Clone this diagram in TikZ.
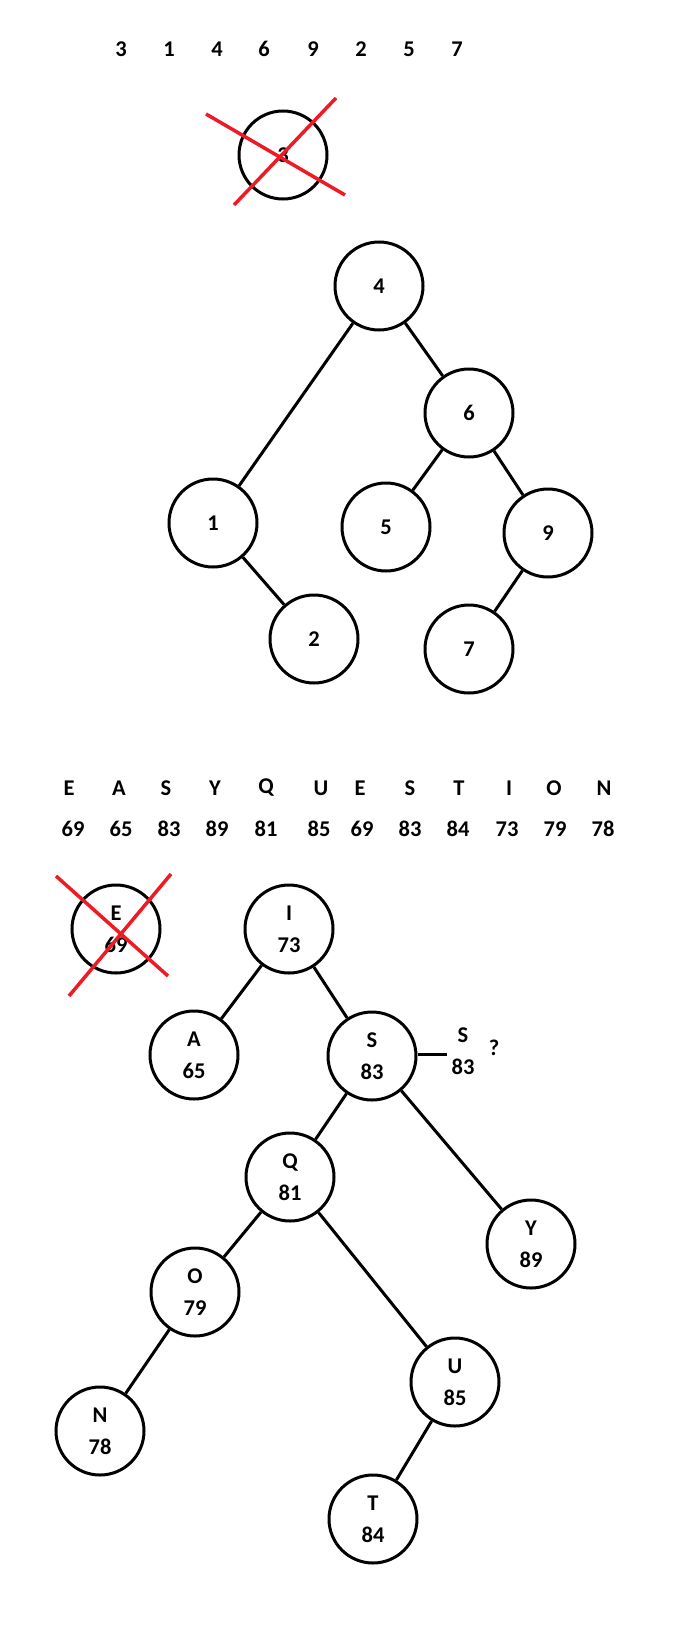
\documentclass[tikz,border=0pt]{standalone}
\usepackage{fontspec}
\setmainfont{Carlito}
\definecolor{paintred}{RGB}{237,28,36}
\tikzset{
  txt/.style={font=\bfseries\fontsize{22.5bp}{32bp}\selectfont, inner sep=0pt, align=center},
  nd/.style={txt, circle, draw=black, line width=3bp, minimum size=88bp},
  edge/.style={draw=black, line width=3bp},
  cross/.style={draw=paintred, line width=3.5bp}
}
\begin{document}
\begin{tikzpicture}[x=1bp,y=-1bp]
\useasboundingbox (0,0) rectangle (674,1648);
% sequence 1
\foreach \v/\x [count=\i] in {3/121,1/169,4/217,6/264,9/313,2/361,5/409,7/457}
  \node[txt] (s\i) at (\x,49) {\v};
% crossed 3
\node[nd] (c3) at (283,155) {3};
\coordinate (r1a) at (206,114); \coordinate (r1b) at (345,195);
\coordinate (r2a) at (234,205); \coordinate (r2b) at (336,98);
\draw[cross] (r1a) -- (r1b);
\draw[cross] (r2a) -- (r2b);
% tree 1
\node[nd] (n4) at (379,286) {4};
\node[nd] (n6) at (469,413) {6};
\node[nd] (n1) at (213,523) {1};
\node[nd] (n5) at (386,527) {5};
\node[nd] (n9) at (548,533) {9};
\node[nd] (n2) at (314,639) {2};
\node[nd] (n7) at (469,649) {7};
\draw[edge] (n4) -- (n1);
\draw[edge] (n4) -- (n6);
\draw[edge] (n6) -- (n5);
\draw[edge] (n6) -- (n9);
\draw[edge] (n1) -- (n2);
\draw[edge] (n9) -- (n7);
% sequence 2
\foreach \v/\x [count=\i] in {E/69,A/119,S/166,Y/215,Q/266,U/321,E/360,S/410,T/459,I/509,O/554,N/604}
  \node[txt] (l\i) at (\x,788) {\v};
\foreach \v/\x [count=\i] in {69/73,65/121,83/169,89/217,81/266,85/319,69/362,83/410,84/458,73/507,79/555,78/603}
  \node[txt] (k\i) at (\x,829) {\v};
% crossed E
\node[nd] (cE) at (116,929) {E\\69};
\coordinate (r3a) at (56,876); \coordinate (r3b) at (168,976);
\coordinate (r4a) at (69,996); \coordinate (r4b) at (171,874);
\draw[cross] (r3a) -- (r3b);
\draw[cross] (r4a) -- (r4b);
% tree 2
\node[nd] (I) at (289,929) {I\\73};
\node[nd] (A) at (194,1055) {A\\65};
\node[nd] (S) at (372,1056) {S\\83};
\node[nd] (Q) at (290,1177) {Q\\81};
\node[nd] (Y) at (531,1244) {Y\\89};
\node[nd] (O) at (195,1292) {O\\79};
\node[nd] (N) at (100,1431) {N\\78};
\node[nd] (U) at (455,1382) {U\\85};
\node[nd] (T) at (373,1519) {T\\84};
\draw[edge] (I) -- (A);
\draw[edge] (I) -- (S);
\draw[edge] (S) -- (Q);
\draw[edge] (S) -- (Y);
\draw[edge] (Q) -- (O);
\draw[edge] (Q) -- (U);
\draw[edge] (O) -- (N);
\draw[edge] (U) -- (T);
\coordinate (sx) at (447,1054);
\draw[edge] (S.east |- sx) -- (sx);
\node[txt] (S2) at (463,1051) {S\\83};
\node[txt] (qm) at (494,1048) {?};
\end{tikzpicture}
\end{document}
